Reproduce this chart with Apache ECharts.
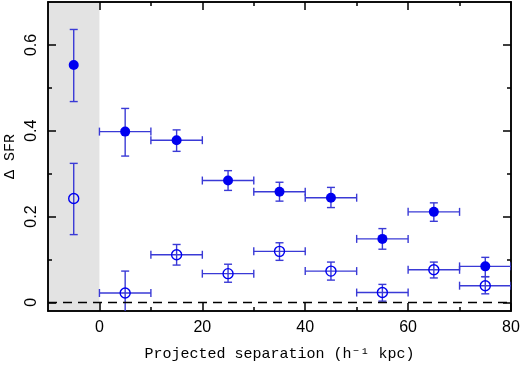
<!DOCTYPE html>
<html>
<head>
<meta charset="utf-8">
<script src="https://cdn.jsdelivr.net/npm/echarts@6/dist/echarts.min.js"></script>
<style>
  html, body { margin: 0; padding: 0; background: #fff; }
  #chart { width: 520px; height: 368px; }
</style>
</head>
<body>
<div id="chart"></div>
<script>
// bin centres (kpc/h) and bin edges; first bin is the shaded one, drawn without x bar
var binCentre = [-5, 5, 15, 25, 35, 45, 55, 65, 75];
var binLeft   = [-5, 0, 10, 20, 30, 40, 50, 60, 70];
var binRight  = [-5, 10, 20, 30, 40, 50, 60, 70, 80];

// filled points
var filledY  = [0.553, 0.398, 0.378, 0.284, 0.258, 0.244, 0.148, 0.211, 0.084];
var filledLo = [0.468, 0.341, 0.352, 0.261, 0.236, 0.221, 0.124, 0.189, 0.060];
var filledHi = [0.636, 0.452, 0.402, 0.307, 0.280, 0.268, 0.172, 0.232, 0.105];

// open points
var openY  = [0.242, 0.022, 0.111, 0.067, 0.119, 0.073, 0.023, 0.076, 0.039];
var openLo = [0.158, -0.03, 0.087, 0.047, 0.098, 0.052, 0.003, 0.057, 0.020];
var openHi = [0.324, 0.073, 0.135, 0.089, 0.139, 0.094, 0.042, 0.094, 0.060];

var xMajor = [0, 20, 40, 60, 80];
var xMinor = [10, 30, 50, 70];
var yMajor = [0, 0.2, 0.4, 0.6];
var yMinor = [0.1, 0.3, 0.5];

var barColor = '#3a3ad6';
var dotColor = '#0000f0';
var tickFont = 'Liberation Sans, Arial, sans-serif';
var titleFont = 'Liberation Mono, Courier New, monospace';

function errData(y, lo, hi) {
  return binCentre.map(function (x, i) {
    return [x, y[i], lo[i], hi[i], binLeft[i], binRight[i]];
  });
}

function renderErr(params, api) {
  var x = api.value(0), lo = api.value(2), hi = api.value(3);
  var xl = api.value(4), xr = api.value(5), y = api.value(1);
  var pTop = api.coord([x, hi]), pBot = api.coord([x, lo]);
  var cap = 4;
  var st = { stroke: barColor, lineWidth: 1.4 };
  var kids = [
    { type: 'line', shape: { x1: pTop[0], y1: pTop[1], x2: pBot[0], y2: pBot[1] }, style: st },
    { type: 'line', shape: { x1: pTop[0] - cap, y1: pTop[1], x2: pTop[0] + cap, y2: pTop[1] }, style: st },
    { type: 'line', shape: { x1: pBot[0] - cap, y1: pBot[1], x2: pBot[0] + cap, y2: pBot[1] }, style: st }
  ];
  if (xr > xl) {
    var pL = api.coord([xl, y]), pR = api.coord([xr, y]);
    kids.push({ type: 'line', shape: { x1: pL[0], y1: pL[1], x2: pR[0], y2: pR[1] }, style: st });
    kids.push({ type: 'line', shape: { x1: pL[0], y1: pL[1] - cap, x2: pL[0], y2: pL[1] + cap }, style: st });
    kids.push({ type: 'line', shape: { x1: pR[0], y1: pR[1] - cap, x2: pR[0], y2: pR[1] + cap }, style: st });
  }
  return { type: 'group', children: kids };
}

function xAx(pos, ticks, len, labels) {
  return {
    type: 'value', min: -10, max: 80, position: pos, gridIndex: 0,
    splitLine: { show: false },
    axisLine: { show: true, onZero: false, lineStyle: { color: '#000', width: 1.5 } },
    axisTick: { show: true, inside: true, length: len, customValues: ticks, lineStyle: { color: '#000', width: 1.5 } },
    axisLabel: labels ? { show: true, customValues: ticks, color: '#000', fontSize: 16, fontFamily: tickFont, margin: 9 } : { show: false }
  };
}

function yAx(pos, ticks, len, labels) {
  return {
    type: 'value', min: -0.02, max: 0.7, position: pos, gridIndex: 0,
    splitLine: { show: false },
    axisLine: { show: true, onZero: false, lineStyle: { color: '#000', width: 1.5 } },
    axisTick: { show: true, inside: true, length: len, customValues: ticks, lineStyle: { color: '#000', width: 1.5 } },
    axisLabel: labels ? { show: true, customValues: ticks, rotate: 90, color: '#000', fontSize: 16, fontFamily: tickFont, margin: 8 } : { show: false }
  };
}

var chart = echarts.init(document.getElementById('chart'));

var bottom = xAx('bottom', xMajor, 8, true);
bottom.name = 'Projected separation (h\u207B\u00B9 kpc)';
bottom.nameLocation = 'middle';
bottom.nameGap = 36;
bottom.nameTextStyle = { color: '#000', fontSize: 15, fontFamily: titleFont };

var left = yAx('left', yMajor, 8, true);
left.name = '\u0394 SFR';
left.nameLocation = 'middle';
left.nameGap = 30;
left.nameMoveOverlap = false;
left.nameTextStyle = { color: '#000', fontSize: 15, fontFamily: titleFont };

chart.setOption({
  animation: false,
  backgroundColor: '#fff',
  grid: { left: 48, right: 9, top: 2, bottom: 57, containLabel: false, outerBoundsMode: 'none' },
  xAxis: [bottom, xAx('top', xMajor, 8, false), xAx('bottom', xMinor, 4, false), xAx('top', xMinor, 4, false)],
  yAxis: [left, yAx('right', yMajor, 8, false), yAx('left', yMinor, 4, false), yAx('right', yMinor, 4, false)],
  series: [
    {
      type: 'custom', name: 'filledErr', xAxisIndex: 0, yAxisIndex: 0, clip: true, z: 3,
      renderItem: renderErr, data: errData(filledY, filledLo, filledHi),
      markArea: {
        silent: true,
        itemStyle: { color: '#e3e3e3' },
        data: [[{ xAxis: -10 }, { xAxis: 0 }]],
        z: 0
      },
      markLine: {
        silent: true, symbol: 'none', label: { show: false },
        lineStyle: { color: '#000', width: 1.3, type: [9, 6] },
        data: [{ yAxis: 0 }]
      }
    },
    {
      type: 'custom', name: 'openErr', xAxisIndex: 0, yAxisIndex: 0, clip: true, z: 3,
      renderItem: renderErr, data: errData(openY, openLo, openHi)
    },
    {
      type: 'scatter', name: 'filled', z: 4, symbol: 'circle', symbolSize: 10,
      itemStyle: { color: dotColor, opacity: 1 },
      data: binCentre.map(function (x, i) { return [x, filledY[i]]; })
    },
    {
      type: 'scatter', name: 'open', z: 4, symbol: 'circle', symbolSize: 10,
      itemStyle: { color: 'rgba(0,0,0,0)', borderColor: dotColor, borderWidth: 1.4, opacity: 1 },
      data: binCentre.map(function (x, i) { return [x, openY[i]]; })
    }
  ]
});
</script>
</body>
</html>
